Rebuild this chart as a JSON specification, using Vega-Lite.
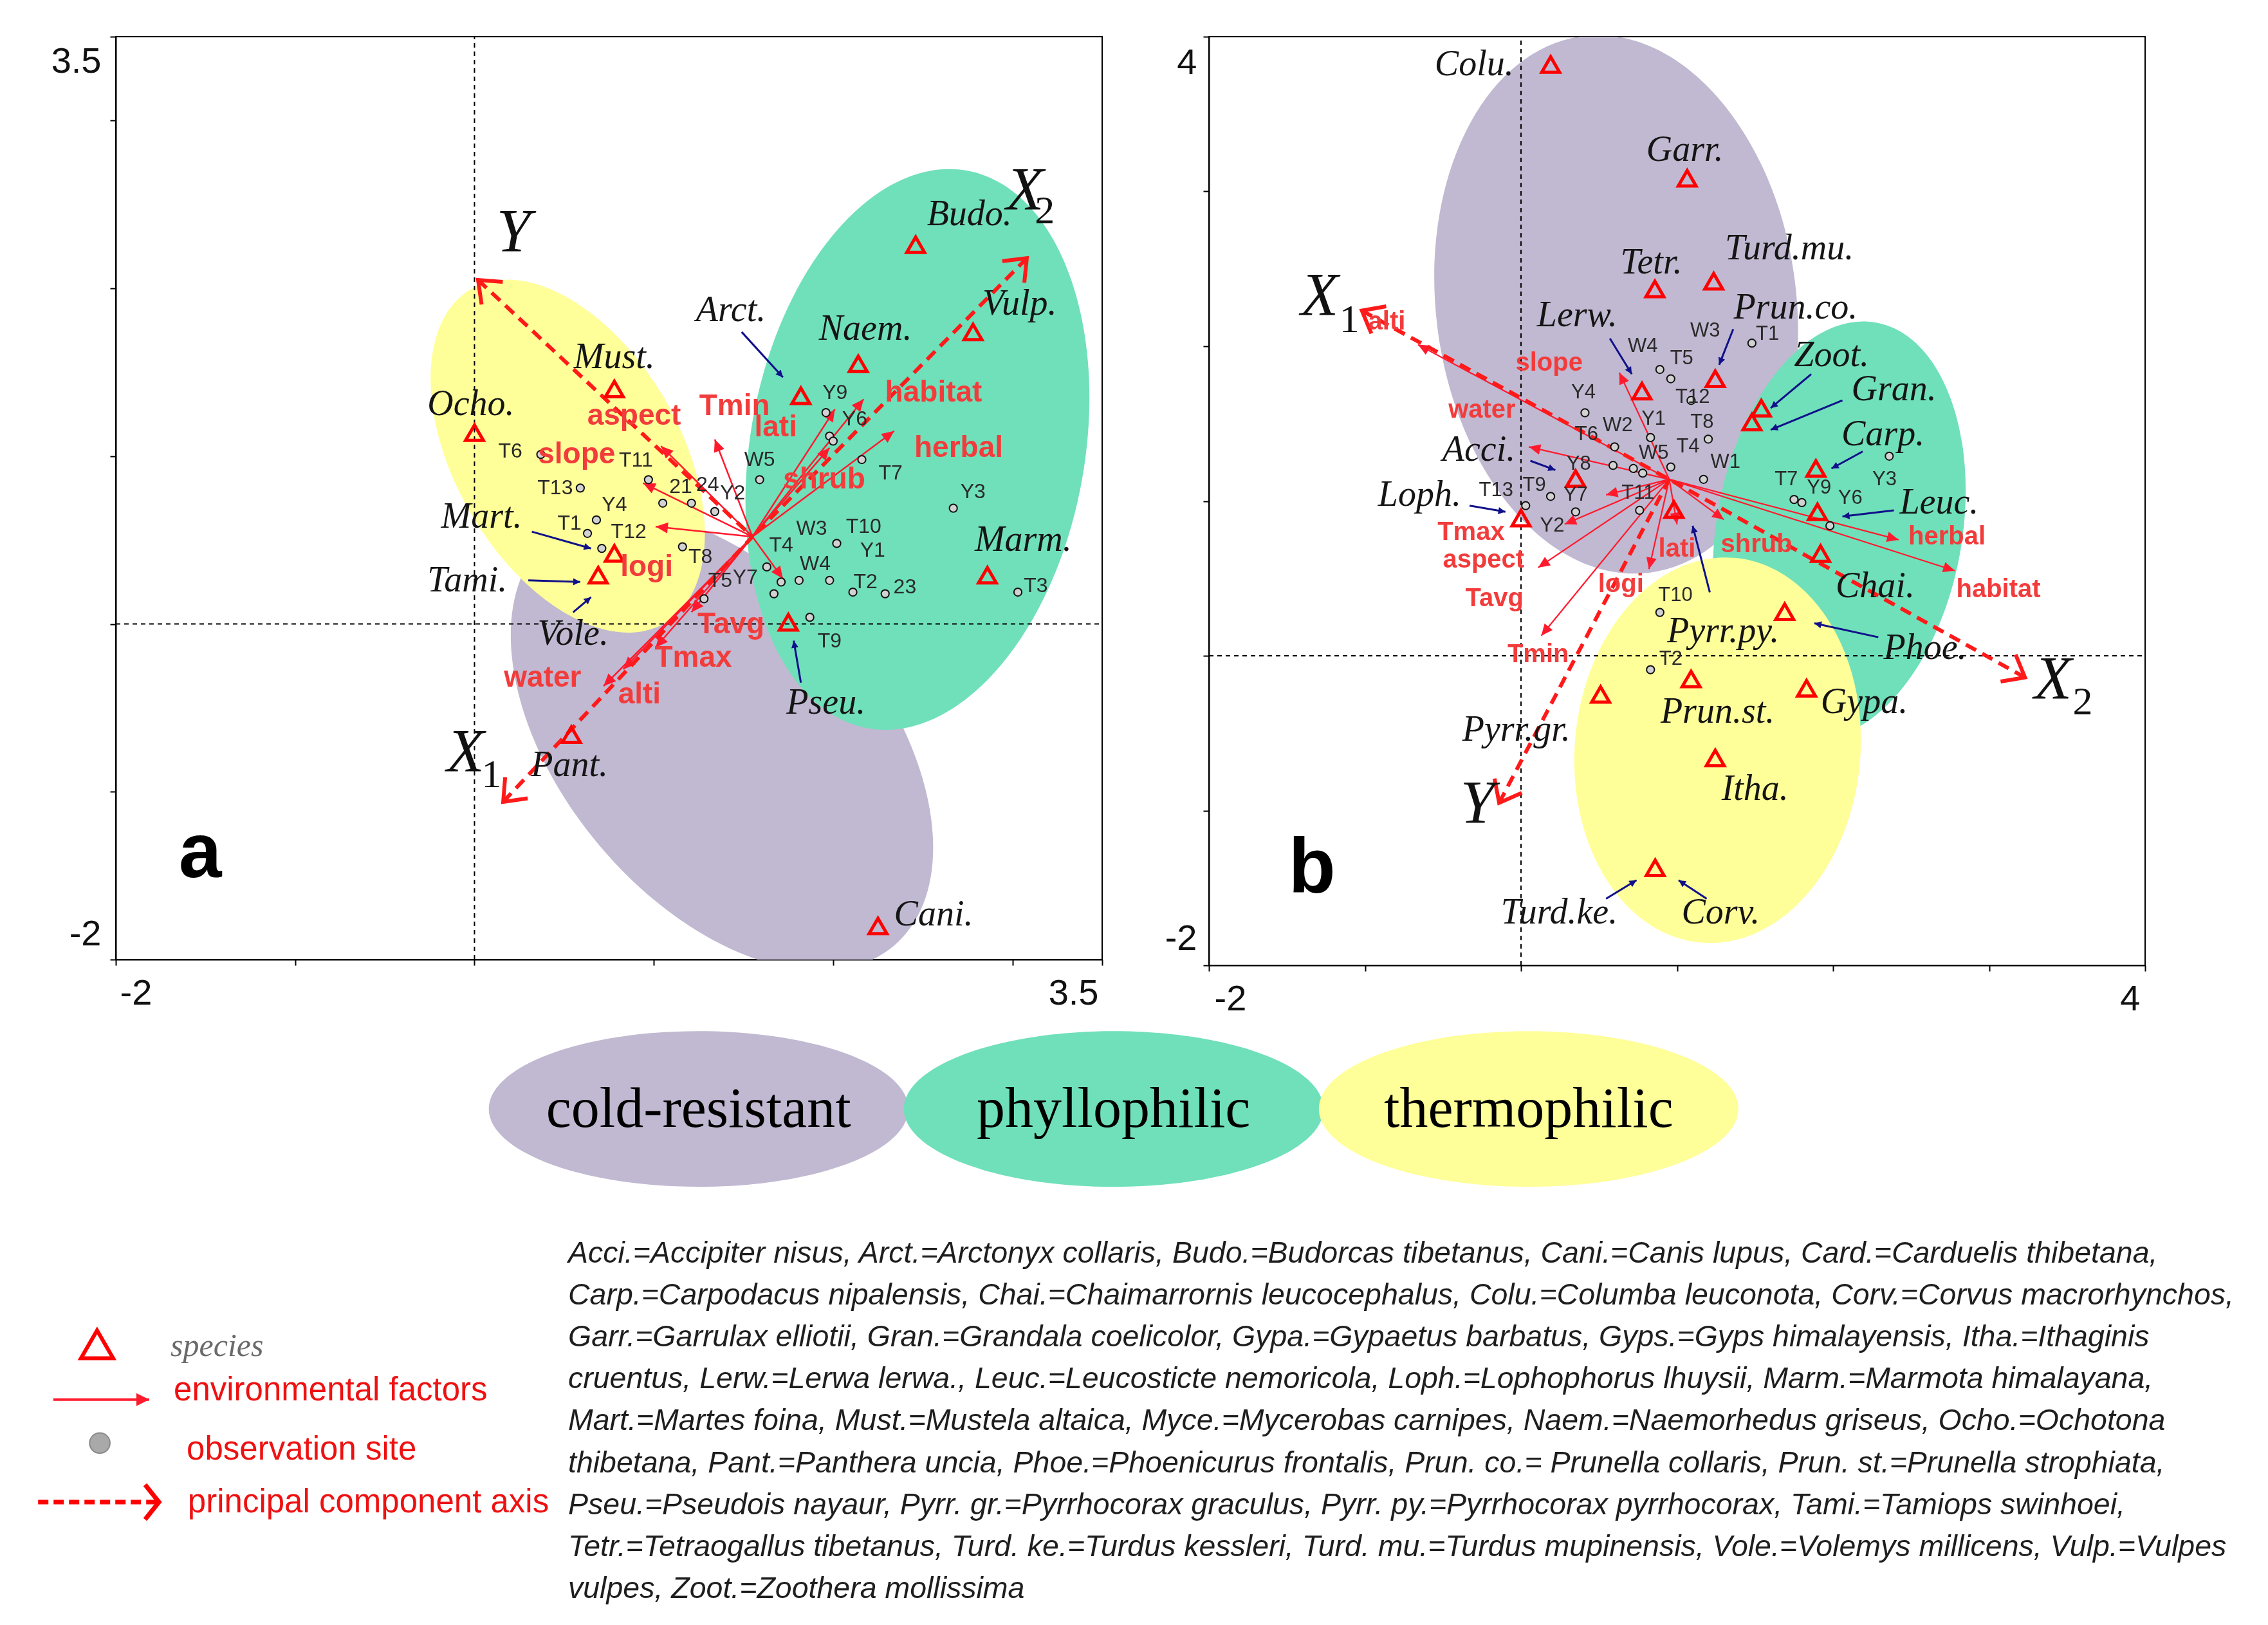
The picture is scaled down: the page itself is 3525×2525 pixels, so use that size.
{
  "$schema": "https://vega.github.io/schema/vega-lite/v6.json",
  "background": "white",
  "padding": {"left": 0, "top": 55, "right": 0, "bottom": 0},
  "config": {"view": {"stroke": null}},
  "datasets": {
    "a_site": [{"x":0.37,"y":1.01},{"x":0.59,"y":0.81},{"x":0.97,"y":0.86},{"x":1.05,"y":0.72},{"x":1.21,"y":0.72},{"x":1.34,"y":0.67},{"x":0.68,"y":0.62},{"x":0.63,"y":0.54},{"x":0.71,"y":0.45},{"x":1.16,"y":0.46},{"x":1.28,"y":0.15},{"x":1.59,"y":0.86},{"x":1.96,"y":1.26},{"x":1.98,"y":1.12},{"x":2.0,"y":1.09},{"x":2.16,"y":0.98},{"x":2.67,"y":0.69},{"x":2.02,"y":0.48},{"x":1.63,"y":0.34},{"x":1.81,"y":0.26},{"x":1.98,"y":0.26},{"x":1.71,"y":0.25},{"x":1.67,"y":0.18},{"x":2.11,"y":0.19},{"x":2.29,"y":0.18},{"x":3.03,"y":0.19},{"x":1.87,"y":0.04}],
    "a_sitelab": [{"x":0.20,"y":1.03,"t":"T6"},{"x":0.45,"y":0.81,"t":"T13"},{"x":0.90,"y":0.975,"t":"T11"},{"x":1.15,"y":0.82,"t":"21"},{"x":1.30,"y":0.83,"t":"24"},{"x":1.44,"y":0.78,"t":"Y2"},{"x":0.78,"y":0.71,"t":"Y4"},{"x":0.53,"y":0.60,"t":"T1"},{"x":0.86,"y":0.55,"t":"T12"},{"x":1.26,"y":0.40,"t":"T8"},{"x":1.37,"y":0.26,"t":"T5"},{"x":1.51,"y":0.28,"t":"Y7"},{"x":1.59,"y":0.98,"t":"W5"},{"x":2.01,"y":1.38,"t":"Y9"},{"x":2.12,"y":1.22,"t":"Y6"},{"x":2.32,"y":0.90,"t":"T7"},{"x":2.78,"y":0.79,"t":"Y3"},{"x":1.88,"y":0.57,"t":"W3"},{"x":2.17,"y":0.58,"t":"T10"},{"x":2.22,"y":0.44,"t":"Y1"},{"x":1.71,"y":0.47,"t":"T4"},{"x":1.90,"y":0.36,"t":"W4"},{"x":2.18,"y":0.25,"t":"T2"},{"x":2.40,"y":0.22,"t":"23"},{"x":3.13,"y":0.23,"t":"T3"},{"x":1.98,"y":-0.10,"t":"T9"}],
    "a_sp": [{"x":2.46,"y":2.26},{"x":2.78,"y":1.74},{"x":2.14,"y":1.55},{"x":1.82,"y":1.36},{"x":0.78,"y":1.40},{"x":0.0,"y":1.14},{"x":0.78,"y":0.42},{"x":0.69,"y":0.29},{"x":0.54,"y":-0.66},{"x":1.75,"y":0.01},{"x":2.86,"y":0.29},{"x":2.25,"y":-1.80}],
    "a_splab": [{"x":2.76,"y":2.44,"t":"Budo."},{"x":3.04,"y":1.91,"t":"Vulp."},{"x":2.18,"y":1.76,"t":"Naem."},{"x":1.43,"y":1.87,"t":"Arct."},{"x":0.78,"y":1.59,"t":"Must."},{"x":-0.02,"y":1.31,"t":"Ocho."},{"x":0.04,"y":0.64,"t":"Mart."},{"x":-0.04,"y":0.26,"t":"Tami."},{"x":0.55,"y":-0.06,"t":"Vole."},{"x":0.53,"y":-0.84,"t":"Pant."},{"x":1.96,"y":-0.47,"t":"Pseu."},{"x":3.06,"y":0.50,"t":"Marm."},{"x":2.56,"y":-1.73,"t":"Cani."}],
    "a_vec": [{"x":2.17,"y":1.34,"x2":1.55,"y2":0.52},{"x":2.34,"y":1.15,"x2":1.55,"y2":0.52},{"x":2.01,"y":1.28,"x2":1.55,"y2":0.52},{"x":1.98,"y":1.05,"x2":1.55,"y2":0.52},{"x":1.34,"y":1.10,"x2":1.55,"y2":0.52},{"x":1.04,"y":1.06,"x2":1.55,"y2":0.52},{"x":0.94,"y":0.84,"x2":1.55,"y2":0.52},{"x":1.01,"y":0.58,"x2":1.55,"y2":0.52},{"x":1.21,"y":0.07,"x2":1.55,"y2":0.52},{"x":1.01,"y":-0.14,"x2":1.55,"y2":0.52},{"x":0.72,"y":-0.37,"x2":1.55,"y2":0.52},{"x":0.83,"y":-0.27,"x2":1.55,"y2":0.52},{"x":1.72,"y":0.27,"x2":1.55,"y2":0.52}],
    "a_vlab": [{"x":2.56,"y":1.38,"t":"habitat"},{"x":2.70,"y":1.05,"t":"herbal"},{"x":1.68,"y":1.17,"t":"lati"},{"x":1.45,"y":1.30,"t":"Tmin"},{"x":1.95,"y":0.86,"t":"shrub"},{"x":0.89,"y":1.24,"t":"aspect"},{"x":0.57,"y":1.01,"t":"slope"},{"x":0.96,"y":0.34,"t":"logi"},{"x":1.43,"y":0.0,"t":"Tavg"},{"x":1.22,"y":-0.20,"t":"Tmax"},{"x":0.38,"y":-0.32,"t":"water"},{"x":0.92,"y":-0.42,"t":"alti"}],
    "a_pc": [{"x":0.02,"y":2.05,"x2":1.55,"y2":0.52},{"x":0.16,"y":-1.06,"x2":1.55,"y2":0.52},{"x":3.08,"y":2.18,"x2":1.55,"y2":0.52}],
    "a_blue": [{"x":1.72,"y":1.47,"x2":1.49,"y2":1.74},{"x":0.65,"y":0.45,"x2":0.32,"y2":0.55},{"x":0.59,"y":0.25,"x2":0.30,"y2":0.26},{"x":0.65,"y":0.16,"x2":0.55,"y2":0.07},{"x":1.78,"y":-0.10,"x2":1.82,"y2":-0.35}],
    "a_ax": [{"x":0.218,"y":2.33,"t":"Y"},{"x":3.07,"y":2.58,"t":"X"},{"x":-0.05,"y":-0.77,"t":"X"}],
    "a_sub": [{"x":3.18,"y":2.46,"t":"2"},{"x":0.095,"y":-0.90,"t":"1"}],
    "b_site": [{"x":1.48,"y":2.02},{"x":0.89,"y":1.85},{"x":0.96,"y":1.79},{"x":1.09,"y":1.65},{"x":0.41,"y":1.57},{"x":0.83,"y":1.41},{"x":1.20,"y":1.40},{"x":0.60,"y":1.35},{"x":0.96,"y":1.22},{"x":0.59,"y":1.23},{"x":0.72,"y":1.21},{"x":0.78,"y":1.18},{"x":1.17,"y":1.14},{"x":0.19,"y":1.03},{"x":0.03,"y":0.97},{"x":0.35,"y":0.93},{"x":0.76,"y":0.94},{"x":0.89,"y":0.28},{"x":2.36,"y":1.29},{"x":1.75,"y":1.01},{"x":1.80,"y":0.99},{"x":1.98,"y":0.84},{"x":0.83,"y":-0.09}],
    "b_sitelab": [{"x":1.58,"y":2.08,"t":"T1"},{"x":1.18,"y":2.10,"t":"W3"},{"x":0.78,"y":2.00,"t":"W4"},{"x":1.03,"y":1.92,"t":"T5"},{"x":1.10,"y":1.67,"t":"T12"},{"x":0.40,"y":1.70,"t":"Y4"},{"x":0.62,"y":1.49,"t":"W2"},{"x":0.85,"y":1.53,"t":"Y1"},{"x":1.16,"y":1.51,"t":"T8"},{"x":0.42,"y":1.43,"t":"T6"},{"x":0.85,"y":1.31,"t":"W5"},{"x":1.07,"y":1.35,"t":"T4"},{"x":1.31,"y":1.25,"t":"W1"},{"x":0.37,"y":1.24,"t":"Y8"},{"x":-0.16,"y":1.07,"t":"T13"},{"x":0.085,"y":1.10,"t":"T9"},{"x":0.35,"y":1.04,"t":"Y7"},{"x":0.20,"y":0.84,"t":"Y2"},{"x":0.75,"y":1.05,"t":"T11"},{"x":1.70,"y":1.14,"t":"T7"},{"x":1.91,"y":1.085,"t":"Y9"},{"x":2.11,"y":1.02,"t":"Y6"},{"x":2.33,"y":1.14,"t":"Y3"},{"x":0.99,"y":0.39,"t":"T10"},{"x":0.96,"y":-0.02,"t":"T2"}],
    "b_sp": [{"x":0.19,"y":3.82},{"x":1.065,"y":3.085},{"x":0.858,"y":2.37},{"x":1.235,"y":2.42},{"x":1.245,"y":1.79},{"x":0.775,"y":1.71},{"x":1.54,"y":1.60},{"x":1.48,"y":1.51},{"x":1.89,"y":1.21},{"x":1.90,"y":0.93},{"x":1.92,"y":0.66},{"x":1.69,"y":0.285},{"x":1.83,"y":-0.21},{"x":1.09,"y":-0.15},{"x":0.98,"y":0.945},{"x":0.51,"y":-0.25},{"x":1.245,"y":-0.66},{"x":0.86,"y":-1.37},{"x":0.35,"y":1.145},{"x":0.0,"y":0.89}],
    "b_splab": [{"x":-0.30,"y":3.82,"t":"Colu."},{"x":1.05,"y":3.27,"t":"Garr."},{"x":0.835,"y":2.54,"t":"Tetr."},{"x":1.72,"y":2.63,"t":"Turd.mu."},{"x":1.76,"y":2.25,"t":"Prun.co."},{"x":0.36,"y":2.20,"t":"Lerw."},{"x":1.99,"y":1.94,"t":"Zoot."},{"x":2.39,"y":1.72,"t":"Gran."},{"x":2.32,"y":1.43,"t":"Carp."},{"x":2.68,"y":0.99,"t":"Leuc."},{"x":2.27,"y":0.45,"t":"Chai."},{"x":2.59,"y":0.05,"t":"Phoe."},{"x":2.20,"y":-0.30,"t":"Gypa."},{"x":1.26,"y":-0.36,"t":"Prun.st."},{"x":1.295,"y":0.16,"t":"Pyrr.py."},{"x":-0.03,"y":-0.48,"t":"Pyrr.gr."},{"x":1.50,"y":-0.86,"t":"Itha."},{"x":1.28,"y":-1.66,"t":"Corv."},{"x":0.245,"y":-1.66,"t":"Turd.ke."},{"x":-0.27,"y":1.33,"t":"Acci."},{"x":-0.65,"y":1.04,"t":"Loph."}],
    "b_vec": [{"x":-0.66,"y":2.01,"x2":0.95,"y2":1.14},{"x":0.63,"y":1.83,"x2":0.95,"y2":1.14},{"x":0.05,"y":1.35,"x2":0.95,"y2":1.14},{"x":0.28,"y":0.85,"x2":0.95,"y2":1.14},{"x":0.11,"y":0.57,"x2":0.95,"y2":1.14},{"x":0.545,"y":1.04,"x2":0.95,"y2":1.14},{"x":0.13,"y":0.13,"x2":0.95,"y2":1.14},{"x":0.82,"y":0.56,"x2":0.95,"y2":1.14},{"x":1.0,"y":0.85,"x2":0.95,"y2":1.14},{"x":1.30,"y":0.88,"x2":0.95,"y2":1.14},{"x":2.42,"y":0.75,"x2":0.95,"y2":1.14},{"x":2.78,"y":0.55,"x2":0.95,"y2":1.14}],
    "b_vlab": [{"x":-0.86,"y":2.16,"t":"alti"},{"x":0.18,"y":1.89,"t":"slope"},{"x":-0.25,"y":1.59,"t":"water"},{"x":-0.32,"y":0.80,"t":"Tmax"},{"x":-0.24,"y":0.62,"t":"aspect"},{"x":-0.17,"y":0.37,"t":"Tavg"},{"x":0.11,"y":0.01,"t":"Tmin"},{"x":0.64,"y":0.46,"t":"logi"},{"x":1.00,"y":0.69,"t":"lati"},{"x":1.51,"y":0.72,"t":"shrub"},{"x":2.73,"y":0.77,"t":"herbal"},{"x":3.06,"y":0.43,"t":"habitat"}],
    "b_pc": [{"x":-1.02,"y":2.23,"x2":0.95,"y2":1.14},{"x":3.23,"y":-0.14,"x2":0.95,"y2":1.14},{"x":-0.14,"y":-0.95,"x2":0.95,"y2":1.14}],
    "b_blue": [{"x":1.27,"y":1.88,"x2":1.36,"y2":2.11},{"x":0.71,"y":1.82,"x2":0.57,"y2":2.05},{"x":1.60,"y":1.60,"x2":1.86,"y2":1.82},{"x":1.60,"y":1.46,"x2":2.06,"y2":1.65},{"x":1.99,"y":1.21,"x2":2.19,"y2":1.32},{"x":2.06,"y":0.90,"x2":2.39,"y2":0.94},{"x":1.88,"y":0.21,"x2":2.29,"y2":0.12},{"x":1.10,"y":0.84,"x2":1.21,"y2":0.41},{"x":1.01,"y":-1.45,"x2":1.19,"y2":-1.57},{"x":0.74,"y":-1.45,"x2":0.545,"y2":-1.57},{"x":0.22,"y":1.20,"x2":0.06,"y2":1.26},{"x":-0.10,"y":0.93,"x2":-0.33,"y2":0.97}],
    "b_ax": [{"x":-1.29,"y":2.32,"t":"X"},{"x":3.41,"y":-0.16,"t":"X"},{"x":-0.28,"y":-0.96,"t":"Y"}],
    "b_sub": [{"x":-1.10,"y":2.17,"t":"1"},{"x":3.60,"y":-0.30,"t":"2"}],
    "bot_ell": [{"x":30.8,"y":83.2,"g":"cold-resistant"},{"x":49.1,"y":83.2,"g":"phyllophilic"},{"x":67.4,"y":83.2,"g":"thermophilic"}],
    "bot_lines": [
      {"x":25.05,"y":59.9,"t":"Acci.=Accipiter nisus,  Arct.=Arctonyx collaris,  Budo.=Budorcas tibetanus,  Cani.=Canis lupus,  Card.=Carduelis thibetana,"},
      {"x":25.05,"y":53.2,"t":"Carp.=Carpodacus nipalensis,  Chai.=Chaimarrornis leucocephalus,  Colu.=Columba leuconota,  Corv.=Corvus macrorhynchos,"},
      {"x":25.05,"y":46.4,"t":"Garr.=Garrulax  elliotii,  Gran.=Grandala coelicolor,  Gypa.=Gypaetus barbatus,  Gyps.=Gyps himalayensis,  Itha.=Ithaginis"},
      {"x":25.05,"y":39.7,"t":"cruentus,  Lerw.=Lerwa  lerwa.,  Leuc.=Leucosticte  nemoricola,  Loph.=Lophophorus lhuysii,  Marm.=Marmota  himalayana,"},
      {"x":25.05,"y":33.0,"t":"Mart.=Martes  foina,  Must.=Mustela altaica,  Myce.=Mycerobas  carnipes,  Naem.=Naemorhedus  griseus,  Ocho.=Ochotona"},
      {"x":25.05,"y":26.1,"t":"thibetana,  Pant.=Panthera uncia,  Phoe.=Phoenicurus frontalis,  Prun. co.= Prunella collaris,  Prun. st.=Prunella strophiata,"},
      {"x":25.05,"y":19.4,"t":"Pseu.=Pseudois nayaur,  Pyrr. gr.=Pyrrhocorax  graculus,  Pyrr. py.=Pyrrhocorax pyrrhocorax,  Tami.=Tamiops swinhoei,"},
      {"x":25.05,"y":12.6,"t":"Tetr.=Tetraogallus  tibetanus,  Turd. ke.=Turdus kessleri,  Turd. mu.=Turdus mupinensis,  Vole.=Volemys  millicens,  Vulp.=Vulpes"},
      {"x":25.05,"y":5.9,"t":"vulpes,  Zoot.=Zoothera  mollissima"}
    ],
    "bot_leg_txt": [{"x":7.66,"y":37.8,"t":"environmental factors"},{"x":8.23,"y":28.3,"t":"observation site"},{"x":8.28,"y":19.8,"t":"principal component  axis"}]
  },
  "vconcat": [
    {
      "hconcat": [
        {"width": 14, "height": 1443, "data": {"values": []}, "mark": {"type": "point", "opacity": 0}},
        {
          "width": 1533, "height": 1434,
          "view": {"stroke": "#000", "strokeWidth": 2},
          "encoding": {
            "x": {"field": "x", "type": "quantitative", "scale": {"domain": [-2, 3.5], "nice": false, "zero": false},
                  "axis": {"title": null, "grid": false, "values": [-2,-1,0,1,2,3,3.5], "labelExpr": "datum.value == -2 ? '-2' : (datum.value == 3.5 ? '3.5' : '')", "domainColor": "#000", "domainWidth": 2, "tickColor": "#000", "tickWidth": 2, "tickSize": 9, "labelFont": "Liberation Sans", "labelFontSize": 56, "labelColor": "#111", "labelFlush": true, "labelFlushOffset": -6, "labelPadding": 16, "labelOverlap": false}},
            "y": {"field": "y", "type": "quantitative", "scale": {"domain": [-2, 3.5], "nice": false, "zero": false},
                  "axis": {"title": null, "grid": false, "values": [-2,-1,0,1,2,3,3.5], "labelExpr": "datum.value == -2 ? '-2' : (datum.value == 3.5 ? '3.5' : '')", "domainColor": "#000", "domainWidth": 2, "tickColor": "#000", "tickWidth": 2, "tickSize": 9, "labelFont": "Liberation Sans", "labelFontSize": 56, "labelColor": "#111", "labelFlush": true, "labelFlushOffset": -11, "labelPadding": 14, "labelOverlap": false}}
          },
          "layer": [
            {"data": {"values": [{"x": 1.38, "y": -0.70}]}, "mark": {"type": "point", "clip": true, "shape": "M 1 0 C 1 0.332 0.552 0.602 0 0.602 C -0.552 0.602 -1 0.332 -1 0 C -1 -0.332 -0.552 -0.602 0 -0.602 C 0.552 -0.602 1 -0.332 1 0 Z", "size": 688900, "angle": 50, "filled": true, "fill": "#c1b9d1", "strokeWidth": 0, "opacity": 1, "blend": "multiply"}},
            {"data": {"values": [{"x": 2.47, "y": 1.04}]}, "mark": {"type": "point", "clip": true, "shape": "M 1 0 C 1 0.326 0.552 0.591 0 0.591 C -0.552 0.591 -1 0.326 -1 0 C -1 -0.326 -0.552 -0.591 0 -0.591 C 0.552 -0.591 1 -0.326 1 0 Z", "size": 774400, "angle": 280, "filled": true, "fill": "#6fe0ba", "strokeWidth": 0, "opacity": 1, "blend": "multiply"}},
            {"data": {"values": [{"x": 0.52, "y": 1.00}]}, "mark": {"type": "point", "clip": true, "shape": "M 1 0 C 1 0.322 0.552 0.583 0 0.583 C -0.552 0.583 -1 0.322 -1 0 C -1 -0.322 -0.552 -0.583 0 -0.583 C 0.552 -0.583 1 -0.322 1 0 Z", "size": 360000, "angle": 60, "filled": true, "fill": "#ffff99", "strokeWidth": 0, "opacity": 1, "blend": "multiply"}},
            {"data": {"values": [{"x": 0, "y": -2, "x2": 0, "y2": 3.5}, {"x": -2, "y": 0, "x2": 3.5, "y2": 0}]}, "mark": {"type": "rule", "color": "#000", "strokeWidth": 2, "strokeDash": [7, 6]}, "encoding": {"x2": {"field": "x2"}, "y2": {"field": "y2"}}},
            {"data": {"name": "a_vec"}, "mark": {"type": "rule", "color": "#ff1a2e", "strokeWidth": 2.5}, "encoding": {"x2": {"field": "x2"}, "y2": {"field": "y2"}}},
            {"data": {"name": "a_vec"}, "transform": [{"calculate": "atan2((datum.y2 - datum.y) * 260.7, (datum.x - datum.x2) * 278.7) * 180 / PI", "as": "ang"}], "mark": {"type": "point", "shape": "M 0 0 L -1 -0.45 L -1 0.45 Z", "size": 1444, "filled": true, "fill": "#ff1a2e", "strokeWidth": 0, "opacity": 1}, "encoding": {"angle": {"field": "ang", "type": "quantitative", "scale": null}}},
            {"data": {"name": "a_pc"}, "mark": {"type": "rule", "color": "#ff1a1a", "strokeWidth": 6, "strokeDash": [18, 11]}, "encoding": {"x2": {"field": "x2"}, "y2": {"field": "y2"}}},
            {"data": {"name": "a_pc"}, "transform": [{"calculate": "atan2((datum.y2 - datum.y) * 260.7, (datum.x - datum.x2) * 278.7) * 180 / PI", "as": "ang"}], "mark": {"type": "point", "shape": "M -1 -0.8 L 0 0 L -1 0.8", "size": 3600, "filled": false, "stroke": "#ff1a1a", "strokeWidth": 6, "opacity": 1}, "encoding": {"angle": {"field": "ang", "type": "quantitative", "scale": null}}},
            {"data": {"name": "a_blue"}, "mark": {"type": "rule", "color": "#10108a", "strokeWidth": 3}, "encoding": {"x2": {"field": "x2"}, "y2": {"field": "y2"}}},
            {"data": {"name": "a_blue"}, "transform": [{"calculate": "atan2((datum.y2 - datum.y) * 260.7, (datum.x - datum.x2) * 278.7) * 180 / PI", "as": "ang"}], "mark": {"type": "point", "shape": "M 0 0 L -1 -0.5 L -1 0.5 Z", "size": 484, "filled": true, "fill": "#10108a", "strokeWidth": 0, "opacity": 1}, "encoding": {"angle": {"field": "ang", "type": "quantitative", "scale": null}}},
            {"data": {"name": "a_site"}, "mark": {"type": "point", "shape": "circle", "size": 150, "filled": true, "fill": "#d2d2d2", "stroke": "#111", "strokeWidth": 2, "opacity": 1}},
            {"data": {"name": "a_sp"}, "mark": {"type": "point", "shape": "triangle-up", "size": 760, "filled": false, "stroke": "#ff0000", "strokeWidth": 5, "opacity": 1}},
            {"data": {"name": "a_sitelab"}, "mark": {"type": "text", "font": "Liberation Sans", "fontSize": 32, "color": "#2a2a2a", "align": "center", "baseline": "middle"}, "encoding": {"text": {"field": "t"}}},
            {"data": {"name": "a_vlab"}, "mark": {"type": "text", "font": "Liberation Sans", "fontWeight": "bold", "fontSize": 46, "color": "#f23c3c", "align": "center", "baseline": "middle"}, "encoding": {"text": {"field": "t"}}},
            {"data": {"name": "a_splab"}, "mark": {"type": "text", "font": "Liberation Serif", "fontStyle": "italic", "fontSize": 56, "color": "#151515", "align": "center", "baseline": "middle"}, "encoding": {"text": {"field": "t"}}},
            {"data": {"name": "a_ax"}, "mark": {"type": "text", "font": "Liberation Serif", "fontStyle": "italic", "fontSize": 96, "color": "#111", "align": "center", "baseline": "middle"}, "encoding": {"text": {"field": "t"}}},
            {"data": {"name": "a_sub"}, "mark": {"type": "text", "font": "Liberation Serif", "fontSize": 62, "color": "#111", "align": "center", "baseline": "middle"}, "encoding": {"text": {"field": "t"}}},
            {"data": {"values": [{"x": -1.53, "y": -1.37, "t": "a"}]}, "mark": {"type": "text", "font": "Liberation Sans", "fontWeight": "bold", "fontSize": 120, "color": "#000", "align": "center", "baseline": "middle"}, "encoding": {"text": {"field": "t"}}}
          ]
        },
        {
          "width": 1455, "height": 1443,
          "view": {"stroke": "#000", "strokeWidth": 2},
          "encoding": {
            "x": {"field": "x", "type": "quantitative", "scale": {"domain": [-2, 4], "nice": false, "zero": false},
                  "axis": {"title": null, "grid": false, "values": [-2,-1,0,1,2,3,4], "labelExpr": "datum.value == -2 ? '-2' : (datum.value == 4 ? '4' : '')", "domainColor": "#000", "domainWidth": 2, "tickColor": "#000", "tickWidth": 2, "tickSize": 9, "labelFont": "Liberation Sans", "labelFontSize": 56, "labelColor": "#111", "labelFlush": true, "labelFlushOffset": -8, "labelPadding": 16, "labelOverlap": false}},
            "y": {"field": "y", "type": "quantitative", "scale": {"domain": [-2, 4], "nice": false, "zero": false},
                  "axis": {"title": null, "grid": false, "values": [-2,-1,0,1,2,3,4], "labelExpr": "datum.value == -2 ? '-2' : (datum.value == 4 ? '4' : '')", "domainColor": "#000", "domainWidth": 2, "tickColor": "#000", "tickWidth": 2, "tickSize": 9, "labelFont": "Liberation Sans", "labelFontSize": 56, "labelColor": "#111", "labelFlush": true, "labelFlushOffset": -13, "labelPadding": 10, "labelOverlap": false}}
          },
          "layer": [
            {"data": {"values": [{"x": 0.61, "y": 2.27}]}, "mark": {"type": "point", "clip": true, "shape": "M 1 0 C 1 0.368 0.552 0.667 0 0.667 C -0.552 0.667 -1 0.368 -1 0 C -1 -0.368 -0.552 -0.667 0 -0.667 C 0.552 -0.667 1 -0.368 1 0 Z", "size": 705600, "angle": 83, "filled": true, "fill": "#c1b9d1", "strokeWidth": 0, "opacity": 1, "blend": "multiply"}},
            {"data": {"values": [{"x": 2.04, "y": 0.81}]}, "mark": {"type": "point", "clip": true, "shape": "M 1 0 C 1 0.321 0.552 0.582 0 0.582 C -0.552 0.582 -1 0.321 -1 0 C -1 -0.321 -0.552 -0.582 0 -0.582 C 0.552 -0.582 1 -0.321 1 0 Z", "size": 430336, "angle": 280, "filled": true, "fill": "#6fe0ba", "strokeWidth": 0, "opacity": 1, "blend": "multiply"}},
            {"data": {"values": [{"x": 1.26, "y": -0.61}]}, "mark": {"type": "point", "clip": true, "shape": "M 1 0 C 1 0.409 0.552 0.74 0 0.74 C -0.552 0.74 -1 0.409 -1 0 C -1 -0.409 -0.552 -0.74 0 -0.74 C 0.552 -0.74 1 -0.409 1 0 Z", "size": 360000, "angle": 275, "filled": true, "fill": "#ffff99", "strokeWidth": 0, "opacity": 1, "blend": "multiply"}},
            {"data": {"values": [{"x": 0, "y": -2, "x2": 0, "y2": 4}, {"x": -2, "y": 0, "x2": 4, "y2": 0}]}, "mark": {"type": "rule", "color": "#000", "strokeWidth": 2, "strokeDash": [7, 6]}, "encoding": {"x2": {"field": "x2"}, "y2": {"field": "y2"}}},
            {"data": {"name": "b_vec"}, "mark": {"type": "rule", "color": "#ff1a2e", "strokeWidth": 2.2}, "encoding": {"x2": {"field": "x2"}, "y2": {"field": "y2"}}},
            {"data": {"name": "b_vec"}, "transform": [{"calculate": "atan2((datum.y2 - datum.y) * 240.5, (datum.x - datum.x2) * 242.5) * 180 / PI", "as": "ang"}], "mark": {"type": "point", "shape": "M 0 0 L -1 -0.45 L -1 0.45 Z", "size": 1296, "filled": true, "fill": "#ff1a2e", "strokeWidth": 0, "opacity": 1}, "encoding": {"angle": {"field": "ang", "type": "quantitative", "scale": null}}},
            {"data": {"name": "b_pc"}, "mark": {"type": "rule", "color": "#ff1a1a", "strokeWidth": 6, "strokeDash": [18, 11]}, "encoding": {"x2": {"field": "x2"}, "y2": {"field": "y2"}}},
            {"data": {"name": "b_pc"}, "transform": [{"calculate": "atan2((datum.y2 - datum.y) * 240.5, (datum.x - datum.x2) * 242.5) * 180 / PI", "as": "ang"}], "mark": {"type": "point", "shape": "M -1 -0.8 L 0 0 L -1 0.8", "size": 3600, "filled": false, "stroke": "#ff1a1a", "strokeWidth": 6, "opacity": 1}, "encoding": {"angle": {"field": "ang", "type": "quantitative", "scale": null}}},
            {"data": {"name": "b_blue"}, "mark": {"type": "rule", "color": "#10108a", "strokeWidth": 3}, "encoding": {"x2": {"field": "x2"}, "y2": {"field": "y2"}}},
            {"data": {"name": "b_blue"}, "transform": [{"calculate": "atan2((datum.y2 - datum.y) * 240.5, (datum.x - datum.x2) * 242.5) * 180 / PI", "as": "ang"}], "mark": {"type": "point", "shape": "M 0 0 L -1 -0.5 L -1 0.5 Z", "size": 484, "filled": true, "fill": "#10108a", "strokeWidth": 0, "opacity": 1}, "encoding": {"angle": {"field": "ang", "type": "quantitative", "scale": null}}},
            {"data": {"name": "b_site"}, "mark": {"type": "point", "shape": "circle", "size": 150, "filled": true, "fill": "#d2d2d2", "stroke": "#111", "strokeWidth": 2, "opacity": 1}},
            {"data": {"name": "b_sp"}, "mark": {"type": "point", "shape": "triangle-up", "size": 760, "filled": false, "stroke": "#ff0000", "strokeWidth": 5, "opacity": 1}},
            {"data": {"name": "b_sitelab"}, "mark": {"type": "text", "font": "Liberation Sans", "fontSize": 31, "color": "#2a2a2a", "align": "center", "baseline": "middle"}, "encoding": {"text": {"field": "t"}}},
            {"data": {"name": "b_vlab"}, "mark": {"type": "text", "font": "Liberation Sans", "fontWeight": "bold", "fontSize": 40, "color": "#f23c3c", "align": "center", "baseline": "middle"}, "encoding": {"text": {"field": "t"}}},
            {"data": {"name": "b_splab"}, "mark": {"type": "text", "font": "Liberation Serif", "fontStyle": "italic", "fontSize": 56, "color": "#151515", "align": "center", "baseline": "middle"}, "encoding": {"text": {"field": "t"}}},
            {"data": {"name": "b_ax"}, "mark": {"type": "text", "font": "Liberation Serif", "fontStyle": "italic", "fontSize": 96, "color": "#111", "align": "center", "baseline": "middle"}, "encoding": {"text": {"field": "t"}}},
            {"data": {"name": "b_sub"}, "mark": {"type": "text", "font": "Liberation Serif", "fontSize": 62, "color": "#111", "align": "center", "baseline": "middle"}, "encoding": {"text": {"field": "t"}}},
            {"data": {"values": [{"x": -1.34, "y": -1.38, "t": "b"}]}, "mark": {"type": "text", "font": "Liberation Sans", "fontWeight": "bold", "fontSize": 120, "color": "#000", "align": "center", "baseline": "middle"}, "encoding": {"text": {"field": "t"}}}
          ]
        }
      ],
      "spacing": 166,
      "bounds": "flush"
    },
    {
      "width": 3525, "height": 965,
      "view": {"stroke": null},
      "encoding": {
        "x": {"field": "x", "type": "quantitative", "scale": {"domain": [0, 100], "nice": false, "zero": false}, "axis": null},
        "y": {"field": "y", "type": "quantitative", "scale": {"domain": [0, 100], "nice": false, "zero": false}, "axis": null}
      },
      "layer": [
        {"data": {"name": "bot_ell"}, "mark": {"type": "point", "shape": "M 1 0 C 1 0.205 0.552 0.371 0 0.371 C -0.552 0.371 -1 0.205 -1 0 C -1 -0.205 -0.552 -0.371 0 -0.371 C 0.552 -0.371 1 -0.205 1 0 Z", "size": 425104, "filled": true, "strokeWidth": 0, "opacity": 1},
         "encoding": {"color": {"field": "g", "type": "nominal", "scale": {"domain": ["cold-resistant", "phyllophilic", "thermophilic"], "range": ["#c1b9d1", "#6fe0ba", "#ffff99"]}, "legend": null}}},
        {"data": {"name": "bot_ell"}, "mark": {"type": "text", "font": "Liberation Serif", "fontSize": 88, "color": "#000", "align": "center", "baseline": "middle", "dy": 2}, "encoding": {"text": {"field": "g"}}},
        {"data": {"values": [{"x": 4.28, "y": 45.3}]}, "mark": {"type": "point", "shape": "triangle-up", "size": 2500, "filled": false, "stroke": "#ff0000", "strokeWidth": 6, "opacity": 1}},
        {"data": {"values": [{"x": 7.52, "y": 45.0, "t": "species"}]}, "mark": {"type": "text", "font": "Liberation Serif", "fontStyle": "italic", "fontSize": 50, "color": "#6a6a6a", "align": "left", "baseline": "middle"}, "encoding": {"text": {"field": "t"}}},
        {"data": {"values": [{"x": 6.58, "y": 36.4, "x2": 2.35, "y2": 36.4}]}, "mark": {"type": "rule", "color": "#ff1a2e", "strokeWidth": 4}, "encoding": {"x2": {"field": "x2"}, "y2": {"field": "y2"}}},
        {"data": {"values": [{"x": 6.58, "y": 36.4}]}, "mark": {"type": "point", "shape": "M 0 0 L -1 -0.5 L -1 0.5 Z", "size": 1600, "angle": 0, "filled": true, "fill": "#ff1a2e", "strokeWidth": 0, "opacity": 1}},
        {"data": {"values": [{"x": 4.40, "y": 29.4}]}, "mark": {"type": "point", "shape": "circle", "size": 1000, "filled": true, "fill": "#a9a9a9", "stroke": "#8a8a8a", "strokeWidth": 2, "opacity": 1}},
        {"data": {"values": [{"x": 6.9, "y": 19.9, "x2": 1.59, "y2": 19.9}]}, "mark": {"type": "rule", "color": "#ff0000", "strokeWidth": 7, "strokeDash": [16, 8]}, "encoding": {"x2": {"field": "x2"}, "y2": {"field": "y2"}}},
        {"data": {"values": [{"x": 7.01, "y": 19.9}]}, "mark": {"type": "point", "shape": "M -0.8 -1 L 0 0 L -0.8 1", "size": 2916, "angle": 0, "filled": false, "stroke": "#ff0000", "strokeWidth": 7, "opacity": 1}},
        {"data": {"name": "bot_leg_txt"}, "mark": {"type": "text", "font": "Liberation Sans", "fontSize": 51, "color": "#ee1111", "align": "left", "baseline": "middle"}, "encoding": {"text": {"field": "t"}}},
        {"data": {"name": "bot_lines"}, "mark": {"type": "text", "font": "Liberation Sans", "fontStyle": "italic", "fontSize": 46.5, "color": "#1e1e1e", "align": "left", "baseline": "middle"}, "encoding": {"text": {"field": "t"}}}
      ]
    }
  ],
  "spacing": 1504,
  "bounds": "flush"
}
